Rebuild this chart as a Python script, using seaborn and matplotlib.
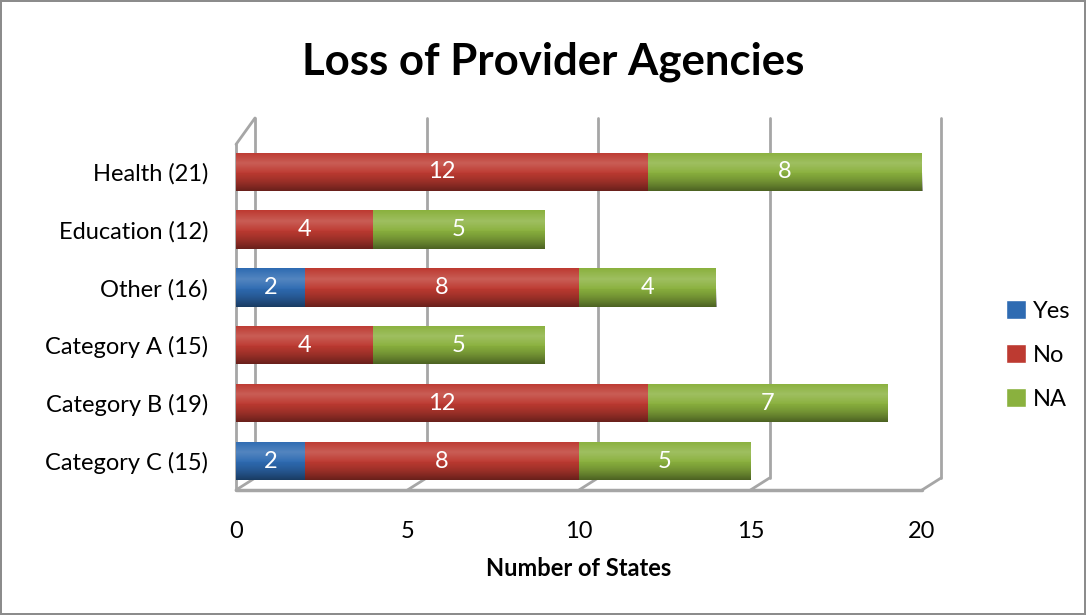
import numpy as np
import pandas as pd
import matplotlib
matplotlib.use("Agg")
import matplotlib.pyplot as plt
import matplotlib.transforms as mtransforms
from matplotlib.patches import Patch
import seaborn as sns

categories = ["Health (21)", "Education (12)", "Other (16)",
              "Category A (15)", "Category B (19)", "Category C (15)"]
yes_vals = [0, 0, 2, 0, 0, 2]
no_vals = [12, 4, 8, 4, 12, 8]
na_vals = [8, 5, 4, 5, 7, 5]
series_names = ["Yes", "No", "NA"]
x_ticks = [0, 5, 10, 15, 20]

colors = {"Yes": "#2E6BB2", "No": "#BD3A31", "NA": "#8AB13E"}
grid_col = "#A6A6A6"
font = ["Lato", "DejaVu Sans"]

sns.set_style("white")
plt.rcParams["font.family"] = font
plt.rcParams["text.color"] = "black"
plt.rcParams["xtick.color"] = "black"
plt.rcParams["ytick.color"] = "black"
plt.rcParams["axes.labelcolor"] = "black"

df = pd.DataFrame({"cat": categories, "Yes": yes_vals, "No": no_vals, "NA": na_vals})
df["yes_no"] = df["Yes"] + df["No"]
df["total"] = df["yes_no"] + df["NA"]

fig = plt.figure(figsize=(10.86, 6.15), dpi=100)
fig.patch.set_edgecolor("#8C8C8C")
fig.patch.set_linewidth(1.5)
ax = fig.add_axes([236 / 1086, 1 - 490 / 615, (922 - 236) / 1086, 360 / 615])

# stacked bars drawn as overlays: total first, then partial sums
sns.barplot(data=df, y="cat", x="total", color=colors["NA"], orient="h",
            width=0.66, saturation=1, ax=ax, zorder=3)
full_bars = list(ax.patches)
sns.barplot(data=df, y="cat", x="yes_no", color=colors["No"], orient="h",
            width=0.66, saturation=1, ax=ax, zorder=3)
sns.barplot(data=df, y="cat", x="Yes", color=colors["Yes"], orient="h",
            width=0.66, saturation=1, ax=ax, zorder=3)
for p in ax.patches:
    p.set_linewidth(0)

# cylinder-ish shading over each full bar
n = 64
t = np.linspace(0, 1, n)
shade = np.zeros((n, 1, 4))
light = np.clip(1 - np.abs(t - 0.28) / 0.28, 0, 1) * 0.18
dark = np.clip((t - 0.45) / 0.55, 0, 1) ** 1.5 * 0.45
shade[:, 0, :3] = np.where(light[:, None] > dark[:, None], 1.0, 0.0)
shade[:, 0, 3] = np.maximum(light, dark)
for p in full_bars:
    bb = p.get_bbox()
    im = ax.imshow(shade, extent=(bb.x0, bb.x1, bb.y1, bb.y0), origin="upper",
                   aspect="auto", zorder=4, interpolation="bilinear")
    im.set_clip_path(p)
ax.set_xlim(0, 20)
ax.set_ylim(5.5, -0.72)

# value labels
for i in range(len(categories)):
    left = 0
    for name, vals in zip(series_names, [yes_vals, no_vals, na_vals]):
        v = vals[i]
        if v > 0:
            ax.text(left + v / 2, i, str(v), ha="center", va="center",
                    color="white", fontsize=17, zorder=5)
        left += v

# 3d box frame (back wall offset up and right)
bl = mtransforms.blended_transform_factory(ax.transData, ax.transAxes)
bl_back = mtransforms.offset_copy(bl, fig=fig, x=19, y=12, units="dots")
for xt in x_ticks:
    ax.plot([xt, xt], [0, 1.0], transform=bl_back, color=grid_col, lw=2,
            zorder=1, clip_on=False)
    p0 = bl.transform((xt, 0))
    p1 = bl_back.transform((xt, 0))
    ax.plot([p0[0], p1[0]], [p0[1], p1[1]], transform=None, color=grid_col,
            lw=2, zorder=1, clip_on=False)
ax.plot([0, 20], [0, 0], transform=bl, color=grid_col, lw=2.5, zorder=1,
        clip_on=False)
ax.plot([0, 0], [0, 0.96], transform=bl, color=grid_col, lw=2, zorder=1,
        clip_on=False)
q0 = bl.transform((0, 0.96))
q1 = bl_back.transform((0, 1.0))
ax.plot([q0[0], q1[0]], [q0[1], q1[1]], transform=None, color=grid_col, lw=2,
        zorder=1, clip_on=False)

for s in ax.spines.values():
    s.set_visible(False)
ax.set_xticks(x_ticks)
ax.set_xticklabels([str(v) for v in x_ticks])
ax.tick_params(axis="both", length=0, labelsize=17)
ax.tick_params(axis="x", pad=22)
ax.tick_params(axis="y", pad=20)
ax.set_ylabel("")
ax.set_xlabel("Number of States", fontsize=17, fontweight="bold", labelpad=11)

fig.text(553 / 1086, 1 - 62 / 615, "Loss of Provider Agencies", ha="center",
         va="center", fontsize=31.5, fontweight="bold")

handles = [Patch(facecolor=colors[s], label=s) for s in series_names]
fig.legend(handles=handles, loc="center left",
           bbox_to_anchor=(1006 / 1086, 1 - 355 / 615), frameon=False,
           fontsize=17, handlelength=0.85, handleheight=0.85,
           handletextpad=0.3, labelspacing=0.95, borderpad=0,
           borderaxespad=0)

fig.savefig("out.png", dpi=100)
